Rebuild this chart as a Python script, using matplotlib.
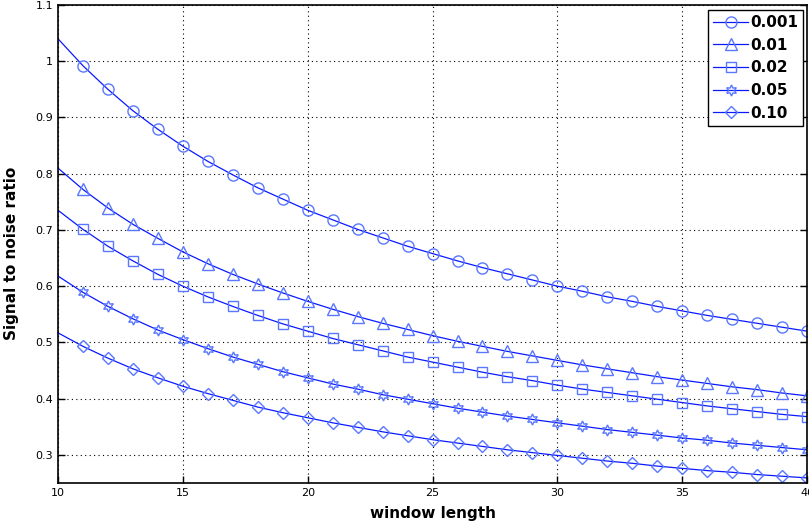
import numpy as np
import matplotlib.pyplot as plt

window = np.arange(10, 41)
levels = ['0.001', '0.01', '0.02', '0.05', '0.10']

snr_0001 = [1.040, 0.992, 0.950, 0.912, 0.879, 0.849, 0.822, 0.798, 0.775, 0.755,
            0.735, 0.718, 0.701, 0.686, 0.671, 0.658, 0.645, 0.633, 0.622, 0.611,
            0.600, 0.591, 0.581, 0.573, 0.564, 0.556, 0.548, 0.541, 0.534, 0.527, 0.520]
snr_001 = [0.810, 0.772, 0.739, 0.710, 0.685, 0.661, 0.640, 0.621, 0.604, 0.588,
           0.573, 0.559, 0.546, 0.534, 0.523, 0.512, 0.502, 0.493, 0.484, 0.476,
           0.468, 0.460, 0.453, 0.446, 0.439, 0.433, 0.427, 0.421, 0.416, 0.410, 0.405]
snr_002 = [0.735, 0.701, 0.671, 0.645, 0.621, 0.600, 0.581, 0.564, 0.548, 0.533,
           0.520, 0.507, 0.496, 0.485, 0.474, 0.465, 0.456, 0.447, 0.439, 0.432,
           0.424, 0.417, 0.411, 0.405, 0.399, 0.393, 0.387, 0.382, 0.377, 0.372, 0.368]
snr_005 = [0.618, 0.589, 0.564, 0.542, 0.522, 0.505, 0.489, 0.474, 0.461, 0.448,
           0.437, 0.426, 0.417, 0.407, 0.399, 0.391, 0.383, 0.376, 0.369, 0.363,
           0.357, 0.351, 0.345, 0.340, 0.335, 0.330, 0.326, 0.321, 0.317, 0.313, 0.309]
snr_010 = [0.517, 0.493, 0.472, 0.453, 0.437, 0.422, 0.409, 0.397, 0.385, 0.375,
           0.366, 0.357, 0.349, 0.341, 0.334, 0.327, 0.321, 0.315, 0.309, 0.304,
           0.299, 0.294, 0.289, 0.285, 0.280, 0.276, 0.272, 0.269, 0.265, 0.262, 0.259]

series = [snr_0001, snr_001, snr_002, snr_005, snr_010]
markers = ['o', '^', 's', (6, 1, 0), 'D']
sizes = [8, 8, 7, 8, 6.5]

fig = plt.figure(figsize=(8.09, 5.29), dpi=100)
ax = fig.add_axes([0.0717, 0.087, 0.9259, 0.9035])

for vals, lab, m, ms in zip(series, levels, markers, sizes):
    ax.plot(window, vals, color='#0a1aff', lw=0.9, marker=m, markersize=ms,
            markerfacecolor='none', markeredgecolor='#5a78ff', markeredgewidth=1.0,
            markevery=slice(1, None), label=lab)

ax.set_xlim(10, 40)
ax.set_ylim(0.25, 1.1)
ax.set_xticks(np.arange(10, 41, 5))
ax.set_yticks(np.arange(0.3, 1.11, 0.1))
ax.set_yticklabels(['0.3', '0.4', '0.5', '0.6', '0.7', '0.8', '0.9', '1', '1.1'])
ax.tick_params(direction='in', length=5, width=1, labelsize=8, colors='black',
               top=False, right=True)
ax.grid(True, color='black', linestyle=(0, (1, 3)), linewidth=0.8)
for s in ax.spines.values():
    s.set_linewidth(1.2)

ax.set_xlabel('window length', fontsize=11, fontweight='bold', labelpad=6)
ax.set_ylabel('Signal to noise ratio', fontsize=11, fontweight='bold')
ax.yaxis.set_label_coords(-0.052, 0.48)

leg = ax.legend(loc='upper right', prop={'weight': 'bold', 'size': 11},
                fancybox=False, edgecolor='black', framealpha=1, handlelength=2.3,
                handletextpad=0.1, labelspacing=0.5, borderpad=0.35,
                borderaxespad=0, bbox_to_anchor=(0.995, 0.99))
leg.get_frame().set_linewidth(1.0)

fig.savefig('out.png', dpi=100)
